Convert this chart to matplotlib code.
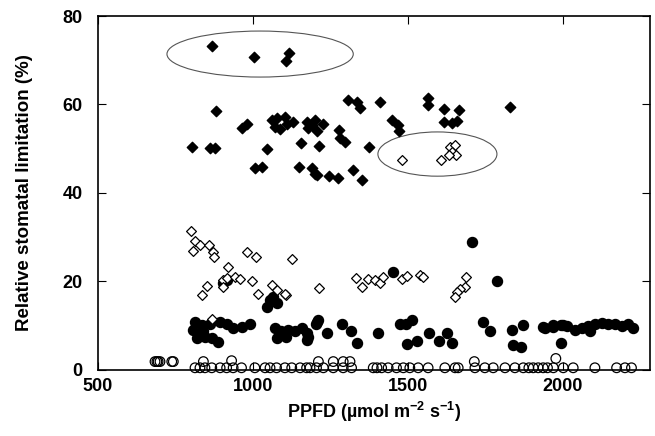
import matplotlib
matplotlib.use('Agg')
import matplotlib.pyplot as plt
from matplotlib.patches import Ellipse

plt.rcParams['font.family'] = ['Liberation Sans', 'DejaVu Sans']
plt.rcParams['font.weight'] = 'bold'
plt.rcParams['mathtext.fontset'] = 'custom'
plt.rcParams['mathtext.rm'] = 'Liberation Sans:bold'
plt.rcParams['mathtext.default'] = 'rm'

# filled diamonds
fd_x = [867, 1004, 1117, 1106, 881, 980, 964, 802, 861, 877, 1044, 1006, 1028,
        1060, 1076, 1071, 1087, 1103, 1109, 1130, 1173, 1189, 1178, 1205, 1225,
        1200, 1155, 1213, 1277, 1281, 1297, 1373, 1149, 1189, 1200, 1205, 1246,
        1275, 1322, 1351, 1307, 1335, 1345, 1410, 1447, 1469, 1472, 1565, 1565,
        1616, 1665, 1616, 1641, 1657, 1829]
fd_y = [73.3, 70.7, 71.6, 69.9, 58.6, 55.6, 54.8, 50.3, 50.1, 50.1, 49.9, 45.6, 45.9,
        56.5, 56.9, 55.0, 54.4, 57.2, 55.7, 56.1, 56.1, 55.4, 54.6, 53.9, 55.7,
        56.5, 51.2, 50.7, 54.2, 52.4, 51.6, 50.5, 45.9, 45.6, 44.4, 44.1, 43.8,
        43.3, 45.2, 42.9, 61.0, 60.6, 59.1, 60.6, 56.6, 55.4, 54.1, 61.4, 59.9,
        58.9, 58.8, 56.1, 55.9, 56.3, 59.4]

# open diamonds
od_x = [1480, 1606, 1635, 1652, 1641, 1655, 1633,
        799, 813, 805, 829, 859, 872, 874, 980, 1010, 1127, 920, 851, 835, 904,
        915, 942, 958, 902, 996, 1017, 1060, 1076, 1106, 1214, 1332, 1351, 1372,
        1394, 1410, 1420, 1480, 1496, 1539, 1549, 1687, 1684, 1668, 1659, 1652,
        867, 1103]
od_y = [47.5, 47.5, 50.5, 50.8, 49.3, 48.6, 48.6,
        31.4, 29.2, 26.9, 28.2, 28.2, 26.7, 25.5, 26.7, 25.5, 25.1, 23.2, 19.0, 16.9, 20.3,
        20.7, 21.1, 20.5, 18.8, 20.2, 17.2, 19.2, 18.1, 17.0, 18.5, 20.7, 18.8, 20.6,
        20.3, 19.6, 21.1, 20.5, 21.2, 21.5, 21.0, 21.1, 18.8, 18.4, 17.7, 16.4,
        11.5, 17.2]

# filled circles
fc_x = [1705, 1453, 1786, 915, 904,
        1055, 1044, 1076, 1066,
        813, 834, 861, 894, 915, 936, 963, 990, 807, 818, 845, 867, 888, 840,
        1071, 1092, 1114, 1135, 1157, 1173, 1205, 1076, 1108, 1173,
        1178, 1211, 1203, 1240, 1286, 1315, 1337, 1402, 1474, 1495, 1512, 1498,
        1530, 1569, 1601, 1625, 1641,
        1741, 1765, 1834, 1872, 1839, 1866, 1936, 1968, 1995, 2012, 1995,
        1942, 1969, 2001, 2039, 2060, 2082, 2087, 2103, 2125, 2146, 2168, 2189,
        2211, 2227]
fc_y = [29.0, 22.2, 20.2, 20.3, 19.6,
        15.8, 14.3, 15.1, 16.6,
        10.9, 10.2, 10.5, 10.9, 10.5, 9.4, 9.8, 10.5, 9.0, 7.2, 7.5, 7.2, 6.4, 8.7,
        9.4, 8.7, 9.0, 8.7, 9.4, 8.3, 10.9, 7.2, 7.5, 6.8,
        7.5, 11.3, 10.5, 8.4, 10.5, 8.9, 6.2, 8.4, 10.5, 10.5, 11.2, 5.9,
        6.6, 8.4, 6.6, 8.4, 6.0,
        10.9, 8.7, 9.0, 10.2, 5.6, 5.3, 9.8, 10.2, 10.2, 10.0, 6.0,
        9.4, 9.8, 10.2, 9.0, 9.4, 10.0, 8.7, 10.5, 10.7, 10.5, 10.4, 10.0,
        10.4, 9.6]

# open circles
oc_x = [684, 690, 694, 700, 738, 743, 840, 931, 1211, 1259, 1291, 1313, 1714, 1977,
        813, 829, 845, 867, 894, 915, 936, 963, 1006, 1039, 1055, 1076, 1103,
        1125, 1152, 1173, 1184, 1205, 1227, 1259, 1291, 1318, 1388, 1400, 1415,
        1436, 1463, 1485, 1506, 1533, 1565, 1619, 1652, 1662, 1716, 1748, 1775,
        1813, 1845, 1872, 1890, 1904, 1920, 1936, 1950, 1969, 2001, 2033, 2103,
        2173, 2200, 2221]
oc_y = [1.9, 1.9, 1.9, 1.9, 1.9, 1.9, 1.9, 2.1, 1.9, 1.9, 1.9, 1.9, 1.9, 2.6,
        0.5, 0.5, 0.5, 0.5, 0.5, 0.5, 0.5, 0.5, 0.5, 0.5, 0.5, 0.5, 0.5,
        0.5, 0.5, 0.5, 0.5, 0.5, 0.5, 0.5, 0.5, 0.5, 0.5, 0.5, 0.5,
        0.5, 0.5, 0.5, 0.5, 0.5, 0.5, 0.5, 0.5, 0.5, 0.5, 0.5, 0.5,
        0.5, 0.5, 0.5, 0.5, 0.5, 0.5, 0.5, 0.5, 0.5, 0.5, 0.5, 0.5,
        0.5, 0.5, 0.5]

fig = plt.figure(figsize=(6.55, 4.36), dpi=100)
ax = fig.add_axes([0.1496, 0.1514, 0.8424, 0.8119])

ax.scatter(oc_x, oc_y, marker='o', s=48, facecolors='none', edgecolors='black',
           linewidths=0.9, clip_on=False, zorder=3)
ax.scatter(fc_x, fc_y, marker='o', s=52, color='black', zorder=3)
ax.scatter(od_x, od_y, marker='D', s=25, facecolors='white', edgecolors='black',
           linewidths=0.9, zorder=4)
ax.scatter(fd_x, fd_y, marker='D', s=28, color='black', zorder=4)

# circled groups
ax.add_patch(Ellipse((1023, 71.4), 601, 10.4, fill=False, edgecolor='#555555', lw=0.8))
ax.add_patch(Ellipse((1595, 48.8), 384, 10.0, fill=False, edgecolor='#555555', lw=0.8))

ax.set_xlim(500, 2280)
ax.set_ylim(0, 80)
ax.set_xticks([500, 1000, 1500, 2000])
ax.set_yticks([0, 20, 40, 60, 80])
ax.tick_params(direction='in', length=5.5, width=0.8, top=True, right=True,
               labelsize=13, pad=6)
ax.tick_params(axis='y', pad=11)
for lbl in ax.get_xticklabels() + ax.get_yticklabels():
    lbl.set_fontweight('bold')
for sp in ax.spines.values():
    sp.set_linewidth(1.2)

ax.set_xlabel('PPFD (µmol m$^{-2}$ s$^{-1}$)', fontsize=13, fontweight='bold', labelpad=3)
ax.set_ylabel('Relative stomatal limitation (%)', fontsize=13.5, fontweight='bold', labelpad=21)

fig.savefig('out.png', dpi=100)
